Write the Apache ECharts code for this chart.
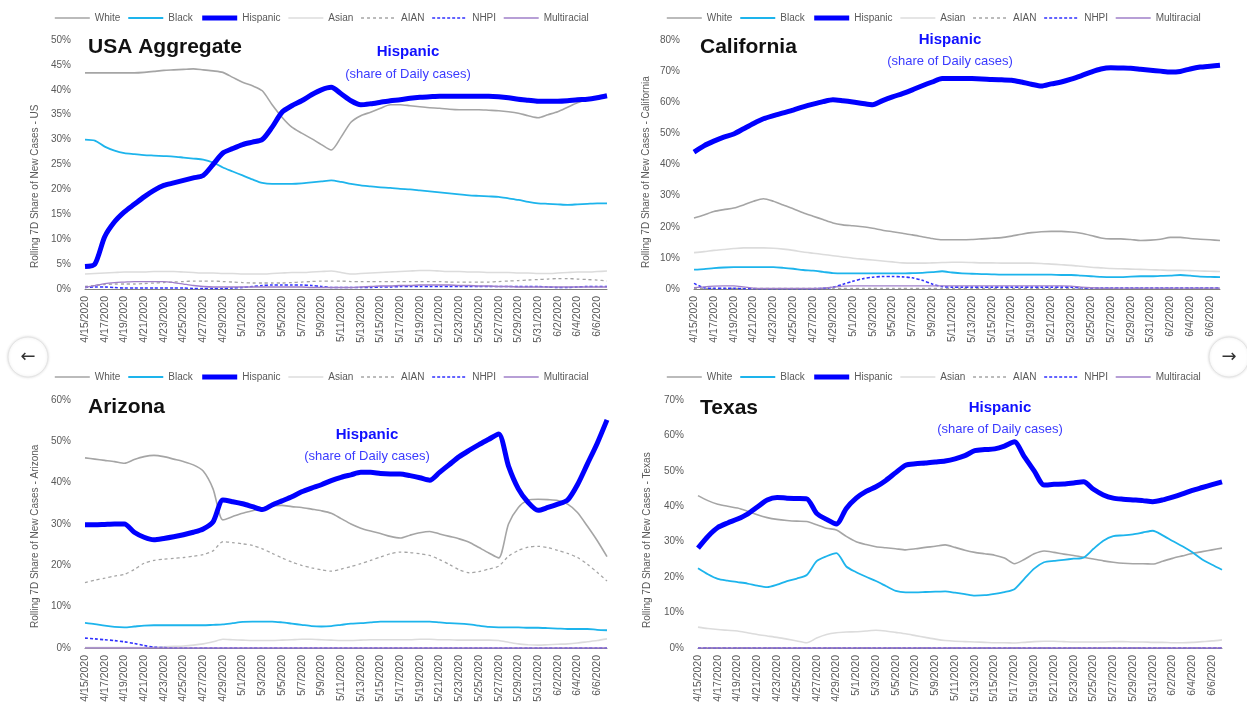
<!DOCTYPE html>
<html>
<head>
<meta charset="utf-8">
<script src="https://cdn.jsdelivr.net/npm/echarts@6/dist/echarts.min.js"></script>
<style>
html,body{margin:0;padding:0;background:#fff;}
#chart{width:1247px;height:708px;}
</style>
</head>
<body>
<div id="chart"></div>
<script>
// ---------- categories ----------
const dates = ["4/15/2020","4/16/2020","4/17/2020","4/18/2020","4/19/2020","4/20/2020","4/21/2020","4/22/2020","4/23/2020","4/24/2020",
"4/25/2020","4/26/2020","4/27/2020","4/28/2020","4/29/2020","4/30/2020","5/1/2020","5/2/2020","5/3/2020","5/4/2020",
"5/5/2020","5/6/2020","5/7/2020","5/8/2020","5/9/2020","5/10/2020","5/11/2020","5/12/2020","5/13/2020","5/14/2020",
"5/15/2020","5/16/2020","5/17/2020","5/18/2020","5/19/2020","5/20/2020","5/21/2020","5/22/2020","5/23/2020","5/24/2020",
"5/25/2020","5/26/2020","5/27/2020","5/28/2020","5/29/2020","5/30/2020","5/31/2020","6/1/2020","6/2/2020","6/3/2020",
"6/4/2020","6/5/2020","6/6/2020","6/7/2020"];
const raceNames = ["White","Black","Hispanic","Asian","AIAN","NHPI","Multiracial"];

// ---------- USA ----------
const usWhite = [43.4,43.4,43.4,43.4,43.4,43.4,43.5,43.7,43.9,44.0, 44.1,44.2,44.0,43.8,43.5,42.5,41.5,40.8,39.8,37.0, 34.5,32.5,31.3,30.2,29.0,27.9,30.5,33.5,34.8,35.5, 36.3,37.0,37.0,36.8,36.6,36.4,36.3,36.1,36.0,36.0, 36.0,35.9,35.8,35.6,35.3,34.8,34.4,35.0,35.6,36.5, 37.4,38.0,38.5,38.9];
const usBlack = [30.0,29.8,28.6,27.8,27.3,27.1,26.9,26.8,26.7,26.6, 26.4,26.2,26.0,25.4,24.4,23.6,22.8,22.0,21.3,21.1, 21.1,21.1,21.2,21.4,21.6,21.8,21.5,21.1,20.8,20.6, 20.4,20.3,20.1,20.0,19.8,19.6,19.4,19.2,19.0,18.8, 18.7,18.6,18.5,18.2,17.9,17.5,17.2,17.1,17.0,16.9, 17.0,17.1,17.2,17.2];
const usHispanic = [4.5,5.0,10.5,13.5,15.5,17.0,18.5,19.8,20.8,21.3, 21.8,22.3,22.8,25.0,27.3,28.2,29.0,29.5,30.0,32.5, 35.5,36.8,37.8,39.0,40.0,40.5,39.2,37.8,37.0,37.2, 37.5,37.8,38.0,38.3,38.5,38.6,38.7,38.7,38.7,38.7, 38.7,38.7,38.6,38.4,38.1,37.9,37.7,37.7,37.7,37.8, 38.0,38.1,38.4,38.8];
const usAsian = [3.0,3.1,3.2,3.3,3.4,3.4,3.4,3.5,3.5,3.5, 3.4,3.3,3.2,3.2,3.1,3.1,3.0,3.0,3.0,3.1, 3.2,3.3,3.3,3.4,3.5,3.6,3.3,3.0,3.1,3.2, 3.3,3.4,3.5,3.6,3.7,3.7,3.6,3.5,3.5,3.4, 3.4,3.3,3.3,3.3,3.2,3.2,3.1,3.1,3.2,3.3, 3.4,3.4,3.5,3.6];
const usAIAN = [0.5,0.7,0.9,1.0,1.0,1.0,1.1,1.2,1.3,1.4, 1.5,1.6,1.6,1.6,1.5,1.4,1.3,1.2,1.2,1.2, 1.2,1.3,1.4,1.5,1.6,1.6,1.6,1.5,1.5,1.5, 1.5,1.5,1.5,1.5,1.5,1.5,1.5,1.4,1.4,1.4, 1.4,1.4,1.5,1.6,1.7,1.8,1.9,2.0,2.1,2.1, 2.0,1.9,1.8,1.6];
const usNHPI = [0.3,0.4,0.4,0.3,0.2,0.2,0.2,0.2,0.2,0.2, 0.2,0.1,0.1,0.1,0.1,0.2,0.3,0.5,0.7,0.8, 0.8,0.8,0.8,0.7,0.5,0.3,0.3,0.3,0.3,0.3, 0.4,0.4,0.5,0.5,0.5,0.5,0.5,0.5,0.5,0.5, 0.5,0.5,0.5,0.5,0.5,0.5,0.5,0.4,0.3,0.3, 0.4,0.5,0.5,0.5];
const usMulti = [0.3,0.7,1.1,1.3,1.4,1.5,1.5,1.5,1.5,1.3, 1.0,0.7,0.5,0.4,0.4,0.4,0.4,0.4,0.4,0.4, 0.4,0.4,0.4,0.3,0.3,0.3,0.3,0.3,0.4,0.5, 0.6,0.6,0.7,0.7,0.8,0.8,0.8,0.8,0.7,0.7, 0.6,0.6,0.5,0.5,0.4,0.4,0.4,0.4,0.4,0.4, 0.4,0.4,0.4,0.4];

// ---------- California ----------
const caWhite = [22.8,23.8,24.9,25.5,26.0,27.0,28.2,29.0,28.2,27.0, 25.8,24.5,23.4,22.3,21.2,20.6,20.3,20.0,19.5,18.9, 18.4,17.9,17.4,16.8,16.2,15.8,15.8,15.8,15.9,16.1, 16.3,16.5,17.0,17.6,18.1,18.4,18.5,18.5,18.3,17.9, 17.2,16.4,16.1,16.1,15.9,15.6,15.7,16.0,16.6,16.6, 16.2,16.0,15.8,15.6];
const caBlack = [6.2,6.4,6.7,6.9,7.0,7.0,7.0,7.0,7.0,6.8, 6.5,6.1,5.9,5.5,5.1,5.0,5.0,5.0,5.0,5.0, 5.0,5.0,5.1,5.2,5.4,5.7,5.3,5.0,4.9,4.8, 4.7,4.6,4.6,4.6,4.6,4.6,4.6,4.5,4.5,4.3, 4.1,3.9,3.8,3.8,4.0,4.1,4.1,4.2,4.3,4.5, 4.3,4.0,3.9,3.8];
const caHispanic = [44.0,46.0,47.5,48.8,49.8,51.5,53.2,54.7,55.7,56.6, 57.5,58.5,59.4,60.2,60.8,60.5,60.1,59.6,59.2,60.5, 61.7,62.8,64.0,65.3,66.5,67.6,67.6,67.6,67.6,67.5, 67.3,67.2,67.1,66.5,65.8,65.2,65.9,66.5,67.4,68.5, 69.7,70.7,71.1,71.0,70.9,70.6,70.3,70.0,69.7,69.9, 70.7,71.3,71.6,71.9];
const caAsian = [11.7,12.0,12.4,12.7,13.0,13.2,13.2,13.2,13.1,12.8, 12.4,11.9,11.5,11.1,10.7,10.3,9.9,9.6,9.3,9.0, 8.7,8.4,8.3,8.3,8.4,8.5,8.6,8.6,8.5,8.4, 8.4,8.3,8.3,8.3,8.3,8.2,8.0,7.8,7.6,7.3, 7.0,6.8,6.6,6.5,6.4,6.3,6.2,6.1,6.0,6.0, 5.9,5.8,5.7,5.6];
const caAIAN = [0.2,0.2,0.2,0.2,0.2,0.2,0.2,0.2,0.2,0.2, 0.2,0.2,0.2,0.2,0.2,0.2,0.2,0.2,0.2,0.2, 0.2,0.2,0.2,0.2,0.2,0.2,0.2,0.2,0.2,0.2, 0.2,0.2,0.2,0.2,0.2,0.2,0.2,0.2,0.2,0.2, 0.2,0.2,0.2,0.2,0.2,0.2,0.2,0.2,0.2,0.2, 0.2,0.2,0.2,0.2];
const caNHPI = [1.8,0.4,0.2,0.2,0.2,0.1,0.1,0.1,0.1,0.1, 0.1,0.1,0.1,0.2,0.6,1.5,2.5,3.3,3.8,4.0, 4.0,3.9,3.6,2.8,1.6,0.8,0.6,0.6,0.6,0.6, 0.6,0.6,0.6,0.6,0.6,0.6,0.6,0.6,0.6,0.4, 0.3,0.3,0.3,0.3,0.3,0.3,0.3,0.3,0.3,0.3, 0.3,0.3,0.3,0.3];
const caMulti = [0.4,0.7,0.9,1.0,1.0,0.7,0.3,0.2,0.2,0.2, 0.2,0.2,0.2,0.3,0.6,0.9,1.0,1.0,1.0,1.0, 1.0,1.0,1.0,1.0,1.0,1.0,1.0,1.0,1.0,1.0, 1.0,1.0,1.0,1.0,1.0,1.0,1.0,1.0,0.9,0.6, 0.4,0.3,0.3,0.3,0.3,0.3,0.3,0.3,0.3,0.3, 0.3,0.3,0.3,0.3];

// ---------- Arizona ----------
const azWhite = [46.0,45.7,45.4,45.1,44.7,45.6,46.3,46.6,46.3,45.7, 45.1,44.3,42.8,38.5,31.0,31.8,32.6,33.2,33.8,34.4, 34.5,34.2,34.0,33.6,33.2,32.6,31.3,30.0,29.0,28.3, 27.7,27.0,26.6,27.3,27.9,28.2,27.6,27.0,26.4,25.6, 24.3,23.0,21.8,30.0,34.0,35.8,36.0,35.9,35.7,34.8, 32.8,29.5,26.0,22.1];
const azBlack = [6.1,5.8,5.4,5.1,5.0,5.2,5.4,5.5,5.5,5.5, 5.5,5.5,5.5,5.6,5.7,6.0,6.3,6.4,6.4,6.4, 6.2,5.9,5.6,5.3,5.2,5.3,5.6,5.9,6.0,6.2, 6.4,6.4,6.4,6.4,6.4,6.4,6.2,6.0,5.9,5.7, 5.4,5.1,5.0,5.0,5.0,4.9,4.9,4.8,4.7,4.6, 4.6,4.6,4.4,4.3];
const azHispanic = [29.8,29.8,29.9,30.0,30.0,28.0,26.8,26.2,26.5,26.9, 27.4,28.0,28.8,30.5,35.8,35.4,34.9,34.2,33.5,34.6, 35.6,36.6,37.8,38.7,39.5,40.5,41.3,41.9,42.5,42.5, 42.2,42.1,42.1,41.7,41.2,40.6,42.5,44.4,46.3,47.8, 49.2,50.5,51.8,44.0,38.5,35.2,33.3,34.0,34.8,35.8, 39.5,44.5,49.5,55.2];
const azAsian = [0.1,0.1,0.1,0.1,0.1,0.1,0.1,0.2,0.3,0.4, 0.5,0.7,1.0,1.5,2.1,2.0,1.9,1.8,1.8,1.8, 1.9,2.0,2.1,2.1,2.0,1.9,1.8,1.8,1.9,2.0, 2.0,2.0,2.0,2.0,2.1,2.1,2.0,2.0,1.9,1.9, 1.9,1.9,1.8,1.4,1.0,0.8,0.7,0.8,0.9,1.0, 1.2,1.5,1.8,2.2];
const azAIAN = [15.8,16.4,16.9,17.4,17.8,19.0,20.5,21.2,21.5,21.7, 21.9,22.2,22.6,23.5,25.7,25.5,25.2,24.8,24.0,22.9, 21.8,20.8,20.0,19.4,18.9,18.6,19.1,19.7,20.4,21.2, 22.0,22.8,23.2,23.1,22.8,22.4,21.4,20.2,18.9,18.2, 18.5,19.1,19.8,22.2,23.6,24.4,24.6,24.3,23.6,22.9, 21.9,20.3,18.3,16.2];
const azNHPI = [2.4,2.2,2.0,1.8,1.5,1.1,0.6,0.2,0.1,0.0, 0,0,0,0,0,0,0,0,0,0, 0,0,0,0,0,0,0,0,0,0, 0,0,0,0,0,0,0,0,0,0, 0,0,0,0,0,0,0,0,0,0, 0,0,0,0];
const azMulti = [0,0,0,0,0,0,0,0,0,0, 0,0,0,0,0,0,0,0,0,0, 0,0,0,0,0,0,0,0,0,0, 0,0,0,0,0,0,0,0,0,0, 0,0,0,0,0,0,0,0,0,0, 0,0,0,0];

// ---------- Texas ----------
const txWhite = [43.0,41.6,40.6,40.0,39.5,38.6,37.6,36.8,36.3,36.0, 35.8,35.7,34.8,33.8,33.3,31.5,30.0,29.2,28.6,28.3, 28.0,27.7,28.0,28.4,28.7,29.1,28.4,27.6,27.0,26.6, 26.2,25.4,23.8,25.0,26.6,27.4,27.0,26.5,26.1,25.6, 25.1,24.6,24.2,23.9,23.8,23.8,23.7,24.5,25.3,26.0, 26.7,27.2,27.7,28.2];
const txBlack = [22.5,20.8,19.5,19.0,18.6,18.2,17.6,17.2,17.9,18.9, 19.6,20.6,24.5,25.9,26.8,23.0,21.4,20.1,18.9,17.5, 16.1,15.7,15.7,15.8,15.9,16.0,15.6,15.2,14.8,14.9, 15.3,15.8,16.6,19.5,22.4,24.2,24.6,24.9,25.2,25.5, 28.0,30.3,31.6,31.8,32.1,32.6,33.1,31.8,30.2,28.7, 27.0,25.0,23.5,22.1];
const txHispanic = [28.2,31.5,34.0,35.3,36.4,37.8,39.8,41.8,42.5,42.3, 42.2,42.1,38.0,36.3,35.0,39.4,42.3,44.2,45.5,47.3, 49.5,51.6,52.0,52.2,52.5,52.8,53.4,54.3,55.7,56.0, 56.2,57.0,58.2,54.0,50.0,46.0,46.2,46.3,46.6,46.9, 44.8,43.2,42.3,42.0,41.8,41.6,41.3,41.8,42.6,43.5, 44.5,45.3,46.1,46.9];
const txAsian = [5.9,5.5,5.2,5.0,4.8,4.3,3.8,3.4,3.0,2.5, 2.0,1.5,2.8,3.8,4.3,4.5,4.6,4.8,5.0,4.8, 4.4,4.0,3.5,3.0,2.5,2.1,1.9,1.8,1.7,1.6, 1.5,1.5,1.4,1.6,1.8,1.9,1.9,1.8,1.7,1.7, 1.7,1.7,1.8,1.8,1.7,1.7,1.6,1.6,1.5,1.5, 1.6,1.8,2.0,2.3];
const txAIAN = [0.1,0.1,0.1,0.1,0.1,0.1,0.1,0.1,0.1,0.1, 0.1,0.1,0.1,0.1,0.1,0.1,0.1,0.1,0.1,0.1, 0.1,0.1,0.1,0.1,0.1,0.1,0.1,0.1,0.1,0.1, 0.1,0.1,0.1,0.1,0.1,0.1,0.1,0.1,0.1,0.1, 0.1,0.1,0.1,0.1,0.1,0.1,0.1,0.1,0.1,0.1, 0.1,0.1,0.1,0.1];
const txNHPI = [0,0,0,0,0,0,0,0,0,0, 0,0,0,0,0,0,0,0,0,0, 0,0,0,0,0,0,0,0,0,0, 0,0,0,0,0,0,0,0,0,0, 0,0,0,0,0,0,0,0,0,0, 0,0,0,0];
const txMulti = [0,0,0,0,0,0,0,0,0,0, 0,0,0,0,0,0,0,0,0,0, 0,0,0,0,0,0,0,0,0,0, 0,0,0,0,0,0,0,0,0,0, 0,0,0,0,0,0,0,0,0,0, 0,0,0,0];

// ---------- axis ticks ----------
const yMax = [50, 80, 60, 70];
const yStep = [5, 10, 10, 10];
const panelTitles = ["USA Aggregate", "California", "Arizona", "Texas"];
const yAxisTitles = ["Rolling 7D Share of New Cases - US", "Rolling 7D Share of New Cases - California",
                     "Rolling 7D Share of New Cases - Arizona", "Rolling 7D Share of New Cases - Texas"];
const noteLine1 = "Hispanic";
const noteLine2 = "(share of Daily cases)";

const panels = [
  [usWhite, usBlack, usHispanic, usAsian, usAIAN, usNHPI, usMulti],
  [caWhite, caBlack, caHispanic, caAsian, caAIAN, caNHPI, caMulti],
  [azWhite, azBlack, azHispanic, azAsian, azAIAN, azNHPI, azMulti],
  [txWhite, txBlack, txHispanic, txAsian, txAIAN, txNHPI, txMulti]
];

// ---------- layout / styles ----------
const FONT = "'Liberation Sans Narrow','Liberation Sans',Arial,sans-serif";
const grids = [
  {left: 85, top: 40, width: 522, height: 249},
  {left: 694, top: 40, width: 526, height: 249},
  {left: 85, top: 400, width: 522, height: 248},
  {left: 698, top: 400, width: 524, height: 248}
];
const legendPos = [{left: 49, top: 8}, {left: 661, top: 8}, {left: 49, top: 367}, {left: 661, top: 367}];
const styles = [
  {color: '#A5A5A5', width: 1.6, type: 'solid', z: 3},
  {color: '#1DB4EC', width: 1.8, type: 'solid', z: 4},
  {color: '#0000FF', width: 5, type: 'solid', z: 6},
  {color: '#DCDCDC', width: 1.6, type: 'solid', z: 2},
  {color: '#A5A5A5', width: 1.3, type: [3, 3], z: 2},
  {color: '#3030FF', width: 1.6, type: [3, 2], z: 2},
  {color: '#9F7FC9', width: 1.3, type: 'solid', z: 2}
];

const option = {
  animation: false,
  backgroundColor: '#fff',
  grid: grids.map(g => Object.assign({containLabel: false}, g)),
  legend: legendPos.map(p => ({
    left: p.left, top: p.top, itemWidth: 35, itemHeight: 12, itemGap: 7,
    itemStyle: {opacity: 0, borderWidth: 0},
    lineStyle: {width: 'inherit'},
    textStyle: {fontSize: 10, color: '#595959', fontFamily: FONT},
    data: raceNames, selectedMode: false
  })),
  xAxis: grids.map((g, i) => ({
    type: 'category', gridIndex: i, data: dates, boundaryGap: false,
    axisLine: {lineStyle: {color: '#808080', width: 1}},
    axisTick: {show: false},
    axisLabel: {interval: 1, rotate: 90, fontSize: 10.5, color: '#595959', fontFamily: FONT, margin: 7},
    splitLine: {show: false}
  })),
  yAxis: grids.map((g, i) => ({
    type: 'value', gridIndex: i, min: 0, max: yMax[i], interval: yStep[i],
    axisLine: {show: false}, axisTick: {show: false}, splitLine: {show: false},
    axisLabel: {formatter: '{value}%', fontSize: 10, color: '#595959', fontFamily: FONT, margin: 14}
  })),
  series: [],
  graphic: []
};

panels.forEach((arrs, p) => {
  arrs.forEach((arr, k) => {
    const s = styles[k];
    option.series.push({
      type: 'line', name: raceNames[k], xAxisIndex: p, yAxisIndex: p,
      data: arr, symbol: 'none', smooth: 0.25, z: s.z,
      lineStyle: {color: s.color, width: s.width, type: s.type},
      itemStyle: {color: s.color}
    });
  });
});

const titlePos = [[88, 47], [700, 47], [88, 407], [700, 408]];
const notePos = [[408, 52, 74], [950, 40, 61], [367, 435, 456], [1000, 408, 429]];
const yNamePos = [[35, 268], [646, 268], [35, 628], [647, 628]];

for (let p = 0; p < 4; p++) {
  option.graphic.push({
    type: 'text', x: titlePos[p][0], y: titlePos[p][1], z: 100,
    style: {text: panelTitles[p], font: "bold 21px " + FONT, fill: '#111', textAlign: 'left', textVerticalAlign: 'middle'}
  });
  option.graphic.push({
    type: 'text', x: notePos[p][0], y: notePos[p][1], z: 100,
    style: {text: noteLine1, font: "bold 15px " + FONT, fill: '#1010FF', textAlign: 'center', textVerticalAlign: 'middle'}
  });
  option.graphic.push({
    type: 'text', x: notePos[p][0], y: notePos[p][2], z: 100,
    style: {text: noteLine2, font: "13px " + FONT, fill: '#3A3AFF', textAlign: 'center', textVerticalAlign: 'middle'}
  });
  option.graphic.push({
    type: 'text', x: yNamePos[p][0], y: yNamePos[p][1], rotation: Math.PI / 2, z: 100,
    style: {text: yAxisTitles[p], font: "10px " + FONT, fill: '#595959', textAlign: 'left', textVerticalAlign: 'middle'}
  });
}
// carousel arrow buttons
[[28, 357, '\u2190'], [1229, 357, '\u2192']].forEach(a => {
  option.graphic.push({
    type: 'circle', shape: {cx: a[0], cy: a[1], r: 20}, z: 200,
    style: {fill: '#fff', stroke: '#e4e4e4', lineWidth: 1, shadowBlur: 3, shadowColor: 'rgba(0,0,0,0.12)'}
  });
  option.graphic.push({
    type: 'text', x: a[0], y: a[1], z: 201,
    style: {text: a[2], font: "18px 'DejaVu Sans',sans-serif", fill: '#333', textAlign: 'center', textVerticalAlign: 'middle'}
  });
});

const chart = echarts.init(document.getElementById('chart'), null, {renderer: 'canvas'});
chart.setOption(option);
</script>
</body>
</html>
